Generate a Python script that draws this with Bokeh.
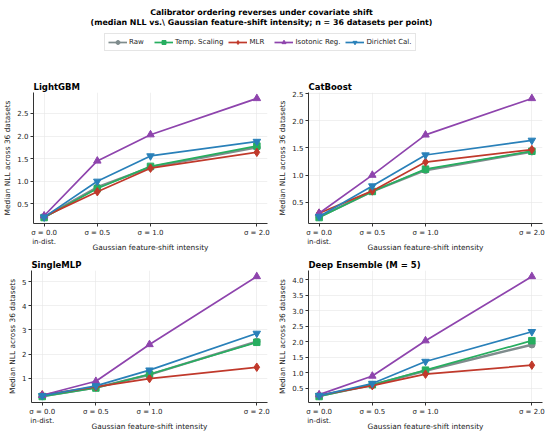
from bokeh.plotting import figure
from bokeh.models import (Range1d, FixedTicker, SingleIntervalTicker, PrintfTickFormatter,
                          Legend, LegendItem, LinearAxis)
from bokeh.layouts import column, row
from bokeh.core.properties import value
from bokeh.embed import file_html
from bokeh.resources import INLINE

# ---------------- data ----------------
x_vals = [0.0, 0.5, 1.0, 2.0]
x_labels = ["σ = 0.0", "σ = 0.5", "σ = 1.0", "σ = 2.0"]
x_sublabel = "in-dist."

methods = ["Raw", "Temp. Scaling", "MLR", "Isotonic Reg.", "Dirichlet Cal."]

lgbm_raw = [0.21, 0.87, 1.31, 1.75]
lgbm_temp = [0.20, 0.84, 1.33, 1.78]
lgbm_mlr = [0.22, 0.77, 1.29, 1.64]
lgbm_iso = [0.24, 1.45, 2.03, 2.83]
lgbm_dir = [0.21, 1.00, 1.56, 1.88]

cat_raw = [0.23, 0.70, 1.09, 1.43]
cat_temp = [0.22, 0.70, 1.11, 1.44]
cat_mlr = [0.30, 0.71, 1.24, 1.47]
cat_iso = [0.30, 1.00, 1.74, 2.41]
cat_dir = [0.24, 0.80, 1.37, 1.64]

mlp_raw = [0.26, 0.62, 1.15, 2.52]
mlp_temp = [0.25, 0.60, 1.17, 2.49]
mlp_mlr = [0.32, 0.65, 0.99, 1.46]
mlp_iso = [0.30, 0.88, 2.40, 5.21]
mlp_dir = [0.28, 0.69, 1.34, 2.86]

de_raw = [0.26, 0.61, 1.07, 1.91]
de_temp = [0.24, 0.62, 1.09, 2.04]
de_mlr = [0.28, 0.59, 0.96, 1.25]
de_iso = [0.30, 0.90, 2.04, 4.11]
de_dir = [0.27, 0.66, 1.37, 2.33]

panel_titles = ["LightGBM", "CatBoost", "SingleMLP", "Deep Ensemble (M = 5)"]
title_lines = ["Calibrator ordering reverses under covariate shift",
               "(median NLL vs.\\ Gaussian feature-shift intensity; n = 36 datasets per point)"]

# ---------------- style ----------------
FONT = "DejaVu Sans"
colors = ["#7f8c8d", "#27ae60", "#c0392b", "#8e44ad", "#2980b9"]
markers = ["circle", "square", "diamond", "triangle", "inverted_triangle"]
msizes = [6.5, 6.5, 8.5, 7.5, 7.5]
lwidths = [2.4, 1.7, 1.7, 1.7, 1.7]
TXT = "#222222"


def style_axis(ax):
    ax.axis_label_text_font = FONT
    ax.axis_label_text_font_size = "7.4px"
    ax.axis_label_text_font_style = "normal"
    ax.axis_label_text_color = TXT
    ax.axis_label_standoff = 2
    ax.major_label_text_font = FONT
    ax.major_label_text_font_size = "7px"
    ax.major_label_text_color = TXT
    ax.major_label_standoff = 2
    ax.major_tick_out = 3
    ax.major_tick_in = 0
    ax.minor_tick_out = 0
    ax.minor_tick_in = 0
    ax.axis_line_color = "#333333"
    ax.major_tick_line_color = "#333333"


def make_panel(title, series, interval, fmt, width, height, mb_left, mb_right, mb_top, mb_bottom):
    allv = [v for s in series for v in s]
    lo, hi = min(allv), max(allv)
    span = hi - lo
    p = figure(width=width, height=height, output_backend="svg", toolbar_location=None,
               x_range=Range1d(-0.1, 2.1),
               y_range=Range1d(lo - 0.05 * span, hi + 0.05 * span),
               min_border_left=mb_left, min_border_right=mb_right,
               min_border_top=mb_top, min_border_bottom=mb_bottom)
    p.outline_line_color = None
    p.background_fill_color = "white"
    p.border_fill_color = "white"
    p.title.text = title
    p.title.text_font = FONT
    p.title.text_font_size = "8.5px"
    p.title.text_font_style = "bold"
    p.title.text_color = "black"
    p.title.align = "left"
    p.title.standoff = 1
    for i, s in enumerate(series):
        p.line(x_vals, s, line_color=colors[i], line_width=lwidths[i])
        p.scatter(x_vals, s, marker=markers[i], size=msizes[i], fill_color=colors[i],
                  line_color=colors[i])
    p.xaxis.ticker = FixedTicker(ticks=x_vals)
    p.xaxis.major_label_overrides = {x_vals[k]: x_labels[k] for k in range(len(x_vals))}
    p.yaxis.ticker = SingleIntervalTicker(interval=interval)
    p.yaxis.formatter = PrintfTickFormatter(format=fmt)
    p.yaxis.axis_label = "Median NLL across 36 datasets"
    style_axis(p.xaxis[0])
    style_axis(p.yaxis[0])
    # second row of x tick text ("in-dist.") plus the x-axis title
    sub = LinearAxis(ticker=FixedTicker(ticks=[x_vals[0]]),
                     major_label_overrides={x_vals[0]: x_sublabel},
                     axis_label="Gaussian feature-shift intensity")
    style_axis(sub)
    sub.axis_line_color = None
    sub.major_tick_line_color = None
    sub.major_tick_out = 0
    sub.major_label_standoff = -2
    sub.axis_label_standoff = -6
    p.add_layout(sub, "below")
    p.xgrid.ticker = FixedTicker(ticks=x_vals)
    p.grid.grid_line_color = "#e6e6e6"
    p.grid.grid_line_width = 0.6
    return p


# ---------------- header ----------------
HW, HH = 550, 58
header = figure(width=HW, height=HH, output_backend="svg", toolbar_location=None,
                x_range=Range1d(0, HW), y_range=Range1d(0, HH),
                min_border=0)
header.axis.visible = False
header.grid.visible = False
header.outline_line_color = None
for k, yy in enumerate([HH - 12, HH - 22]):
    header.text([261], [yy], text=[title_lines[k]],
                text_font=value(FONT), text_font_size="7.9px", text_font_style="bold",
                text_align="center", text_baseline="middle", text_color="black")
items = []
for i, m in enumerate(methods):
    r1 = header.line([-1000, -999], [-1000, -1000], line_color=colors[i], line_width=1.7)
    r2 = header.scatter([-1000], [-1000], marker=markers[i], size=msizes[i] - 0.5,
                        fill_color=colors[i], line_color=colors[i])
    items.append(LegendItem(label=m, renderers=[r1, r2]))
legend = Legend(items=items, orientation="horizontal", location=(104, 7),
                label_text_font=FONT, label_text_font_size="7px", label_text_color=TXT,
                glyph_width=19, glyph_height=10, label_height=10, label_standoff=2,
                spacing=5, padding=3, margin=0,
                border_line_color="#cccccc", border_line_width=0.8,
                background_fill_color="white")
header.add_layout(legend, "center")

# ---------------- panels ----------------
p1 = make_panel(panel_titles[0], [lgbm_raw, lgbm_temp, lgbm_mlr, lgbm_iso, lgbm_dir],
                0.5, "%.1f", 275, 197, 31, 8, 34, 32)
p2 = make_panel(panel_titles[1], [cat_raw, cat_temp, cat_mlr, cat_iso, cat_dir],
                0.5, "%.1f", 275, 197, 29, 8, 34, 32)
p3 = make_panel(panel_titles[2], [mlp_raw, mlp_temp, mlp_mlr, mlp_iso, mlp_dir],
                1, "%d", 275, 180, 31, 8, 15, 33)
p4 = make_panel(panel_titles[3], [de_raw, de_temp, de_mlr, de_iso, de_dir],
                0.5, "%.1f", 275, 180, 29, 8, 15, 33)

layout = column(header, row(p1, p2), row(p3, p4))
open("out.html", "w").write(file_html(layout, INLINE))
